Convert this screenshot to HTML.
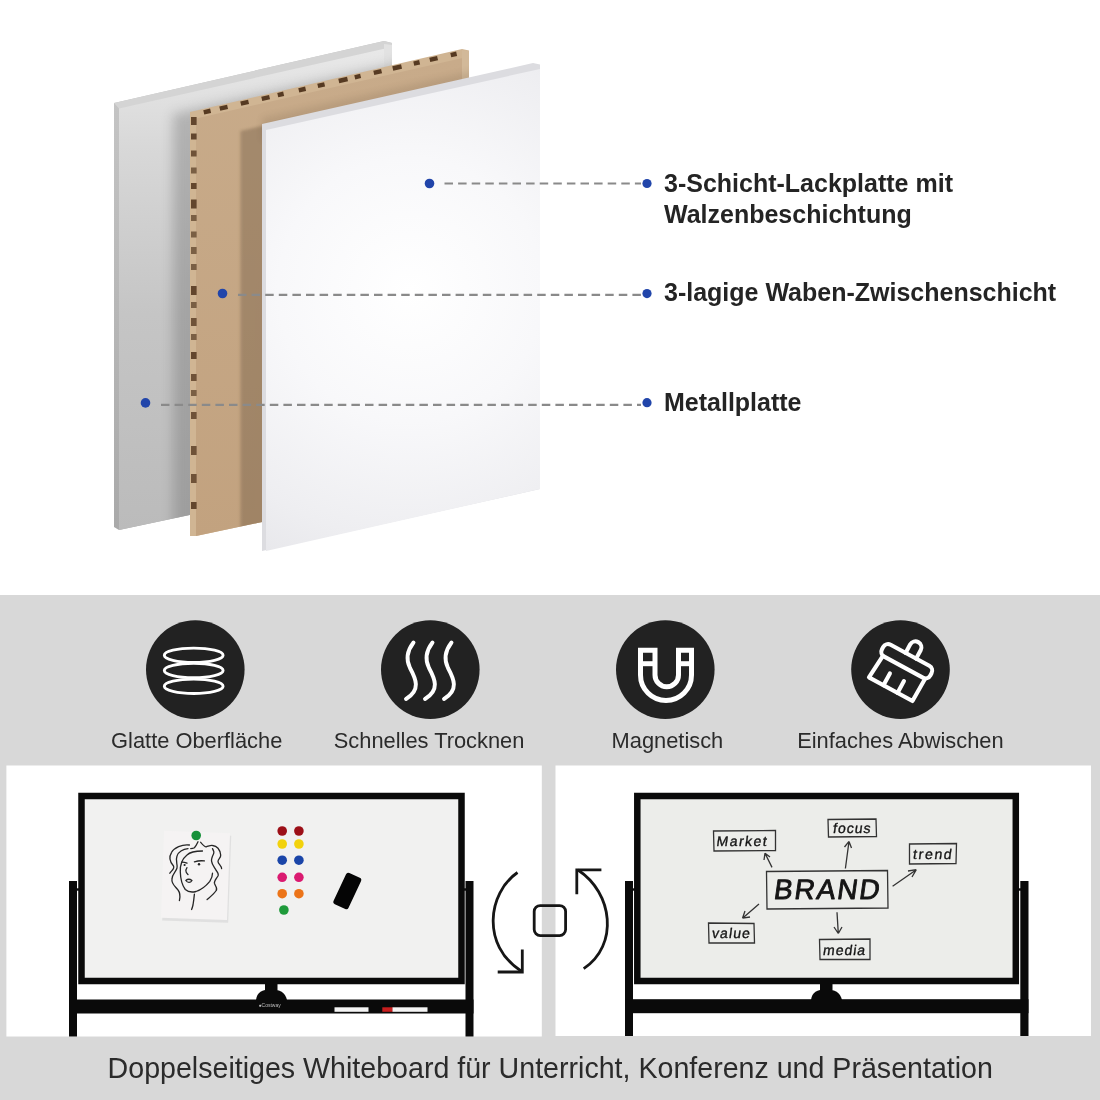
<!DOCTYPE html>
<html><head><meta charset="utf-8"><title>Whiteboard</title>
<style>
html,body{margin:0;padding:0;width:1100px;height:1100px;overflow:hidden;background:#fff;font-family:"Liberation Sans",sans-serif;}
svg{position:absolute;left:0;top:0;display:block;will-change:transform;}
</style></head>
<body>
<svg width="1100" height="1100" viewBox="0 0 1100 1100">
<defs>
  <linearGradient id="metalFace" gradientUnits="userSpaceOnUse" x1="0" y1="50" x2="0" y2="530">
    <stop offset="0" stop-color="#e8e8e8"/>
    <stop offset="0.2" stop-color="#d8d8d8"/>
    <stop offset="0.55" stop-color="#c5c5c5"/>
    <stop offset="1" stop-color="#bbbbbb"/>
  </linearGradient>
  <linearGradient id="metalEdge" gradientUnits="userSpaceOnUse" x1="0" y1="100" x2="0" y2="530">
    <stop offset="0" stop-color="#c4c4c4"/>
    <stop offset="1" stop-color="#a9a9a9"/>
  </linearGradient>
  <linearGradient id="kraft" gradientUnits="userSpaceOnUse" x1="0" y1="60" x2="0" y2="540">
    <stop offset="0" stop-color="#c8ab8a"/>
    <stop offset="1" stop-color="#c2a27f"/>
  </linearGradient>
  <radialGradient id="whiteFace" gradientUnits="userSpaceOnUse" cx="410" cy="290" r="330">
    <stop offset="0" stop-color="#ffffff"/>
    <stop offset="0.4" stop-color="#f8f8fa"/>
    <stop offset="0.75" stop-color="#eeeef1"/>
    <stop offset="1" stop-color="#e4e4e8"/>
  </radialGradient>
  <filter id="blur6" x="-50%" y="-50%" width="200%" height="200%"><feGaussianBlur stdDeviation="6"/></filter>
  <filter id="blur2" x="-50%" y="-50%" width="200%" height="200%"><feGaussianBlur stdDeviation="1.8"/></filter>
  <filter id="blur3" x="-50%" y="-50%" width="200%" height="200%"><feGaussianBlur stdDeviation="3.5"/></filter>
  <clipPath id="metalClip"><polygon points="119,107 392,45 392,472 119,530"/></clipPath>
  <clipPath id="kraftClip"><polygon points="196,118 469,56 469,478 196,536"/></clipPath>
</defs>
<!-- metal panel -->
<polygon points="114,103 384,41 392,43 392,472 119,530 114,527" fill="url(#metalEdge)"/>
<polygon points="119,107 388,45 392,46 392,472 119,530" fill="url(#metalFace)"/>
<polygon points="114,103 384,41 392,43 392,47 119,108.5" fill="#d4d4d4"/>
<polygon points="384,44 392,45 392,70 384,72" fill="#e2e2e2"/>
<g clip-path="url(#metalClip)">
  <polygon points="173,114 462,49 462,540 173,540" fill="#707070" opacity="0.38" filter="url(#blur6)"/>
</g>
<!-- honeycomb panel -->
<polygon points="190,112 462,49 469,50.5 469,478 196,536 190,536" fill="#d0b593"/>
<polygon points="196,118.5 469,56.5 469,478 196,536" fill="url(#kraft)"/>
<polygon points="462,50 469,51 469,120 462,120" fill="#d2b999"/>
<g clip-path="url(#kraftClip)">
  <polygon points="240.5,131 300,117 300,560 240.5,560" fill="#4a3826" opacity="0.28" filter="url(#blur2)"/>
  <polygon points="262,118 540,56 540,120 262,140" fill="#4a3826" opacity="0.12" filter="url(#blur3)"/>
</g>
<g fill="#563a22">
<rect x="191" y="117.0" width="5.6" height="8" opacity="0.9"/>
<rect x="191" y="133.5" width="5.6" height="6" opacity="0.9"/>
<rect x="191" y="150.5" width="5.6" height="6" opacity="0.8"/>
<rect x="191" y="167.5" width="5.6" height="6" opacity="0.7"/>
<rect x="191" y="183.0" width="5.6" height="6" opacity="0.9"/>
<rect x="191" y="199.5" width="5.6" height="9" opacity="0.9"/>
<rect x="191" y="215.0" width="5.6" height="6" opacity="0.7"/>
<rect x="191" y="231.5" width="5.6" height="6" opacity="0.7"/>
<rect x="191" y="247.0" width="5.6" height="7" opacity="0.7"/>
<rect x="191" y="264.0" width="5.6" height="6" opacity="0.7"/>
<rect x="191" y="286.0" width="5.6" height="9" opacity="0.9"/>
<rect x="191" y="302.0" width="5.6" height="6" opacity="0.7"/>
<rect x="191" y="318.0" width="5.6" height="8" opacity="0.8"/>
<rect x="191" y="334.0" width="5.6" height="6" opacity="0.7"/>
<rect x="191" y="352.0" width="5.6" height="7" opacity="0.9"/>
<rect x="191" y="374.0" width="5.6" height="7" opacity="0.8"/>
<rect x="191" y="390.0" width="5.6" height="6" opacity="0.7"/>
<rect x="191" y="412.0" width="5.6" height="7" opacity="0.8"/>
<rect x="191" y="446.0" width="5.6" height="9" opacity="0.8"/>
<rect x="191" y="474.0" width="5.6" height="9" opacity="0.8"/>
<rect x="191" y="502.0" width="5.6" height="7" opacity="0.9"/>
<rect x="203.0" y="110.2" width="7" height="4.4" transform="rotate(-13 203.0 109.0)"/>
<rect x="219.0" y="106.5" width="8" height="4.4" transform="rotate(-13 219.0 105.3)"/>
<rect x="240.0" y="101.6" width="8" height="4.4" transform="rotate(-13 240.0 100.4)"/>
<rect x="261.0" y="96.8" width="8" height="4.4" transform="rotate(-13 261.0 95.6)"/>
<rect x="277.0" y="93.0" width="6" height="4.4" transform="rotate(-13 277.0 91.8)"/>
<rect x="298.0" y="88.2" width="7" height="4.4" transform="rotate(-13 298.0 87.0)"/>
<rect x="317.0" y="83.8" width="7" height="4.4" transform="rotate(-13 317.0 82.6)"/>
<rect x="338.0" y="78.9" width="9" height="4.4" transform="rotate(-13 338.0 77.7)"/>
<rect x="354.0" y="75.2" width="6" height="4.4" transform="rotate(-13 354.0 74.0)"/>
<rect x="373.0" y="70.8" width="8" height="4.4" transform="rotate(-13 373.0 69.6)"/>
<rect x="392.0" y="66.4" width="9" height="4.4" transform="rotate(-13 392.0 65.2)"/>
<rect x="413.0" y="61.5" width="6" height="4.4" transform="rotate(-13 413.0 60.3)"/>
<rect x="429.0" y="57.8" width="8" height="4.4" transform="rotate(-13 429.0 56.6)"/>
<rect x="450.0" y="53.0" width="6" height="4.4" transform="rotate(-13 450.0 51.8)"/>
</g>
<!-- white panel -->
<polygon points="262,124 533,63 540,64.5 540,489 262,551" fill="#dcdce0"/>
<polygon points="266,130 540,69 540,489 266,551" fill="url(#whiteFace)"/>
<!-- dashed leader lines -->
<g stroke="#8a8a8a" stroke-width="2.2" stroke-dasharray="8.5 5.1">
  <line x1="444.5" y1="183.5" x2="641" y2="183.5"/>
  <line x1="238" y1="294.8" x2="641" y2="294.8"/>
  <line x1="161" y1="404.8" x2="641" y2="404.8"/>
</g>
<g fill="#2145aa">
  <circle cx="429.5" cy="183.5" r="4.8"/>
  <circle cx="222.5" cy="293.5" r="4.8"/>
  <circle cx="145.5" cy="402.9" r="4.8"/>
  <circle cx="647" cy="183.5" r="4.6"/>
  <circle cx="647" cy="293.6" r="4.6"/>
  <circle cx="647" cy="402.7" r="4.6"/>
</g>
<g font-family="Liberation Sans, sans-serif" font-weight="bold" font-size="25" fill="#242424">
  <text x="664" y="192">3-Schicht-Lackplatte mit</text>
  <text x="664" y="222.5">Walzenbeschichtung</text>
  <text x="664" y="300.5">3-lagige Waben-Zwischenschicht</text>
  <text x="664" y="410.6">Metallplatte</text>
</g>

<rect x="0" y="595" width="1100" height="505" fill="#d8d8d8"/>
<!-- icons -->
<g fill="#222222">
  <circle cx="195.3" cy="669.6" r="49.3"/>
  <circle cx="430.3" cy="669.6" r="49.3"/>
  <circle cx="665.3" cy="669.6" r="49.3"/>
  <circle cx="900.5" cy="669.6" r="49.3"/>
</g>
<g fill="none" stroke="#fff" stroke-width="2.9">
  <ellipse cx="193.7" cy="655.3" rx="29.4" ry="7.2"/>
  <ellipse cx="193.7" cy="670.5" rx="29.4" ry="7.2"/>
  <ellipse cx="193.7" cy="686.3" rx="29.4" ry="7.2"/>
</g>
<g fill="none" stroke="#fff" stroke-width="3.9" stroke-linecap="round">
  <path d="M413.5,642.5 C407,651 406,660 410,668 C416,679 421,690 406,699"/>
  <path d="M432.5,642.5 C426,651 425,660 429,668 C435,679 440,690 425,699"/>
  <path d="M451.5,642.5 C445,651 444,660 448,668 C454,679 459,690 444,699"/>
</g>
<g fill="none" stroke="#fff" stroke-width="5" stroke-linejoin="miter">
  <path d="M640.5,650.3 L640.5,675 A25.5,25.5 0 0 0 691.5,675 L691.5,650.3 L678.5,650.3 L678.5,675 A11.75,11.75 0 0 1 655,675 L655,650.3 Z"/>
  <line x1="640" y1="663.7" x2="655.5" y2="663.7"/>
  <line x1="678" y1="663.7" x2="692" y2="663.7"/>
</g>
<g transform="rotate(28.5 900.5 669.6)" fill="none" stroke="#fff" stroke-width="4.1" stroke-linejoin="round" stroke-linecap="round">
  <path d="M897,652.5 L897,643 A6,6 0 0 1 909,643 L909,652.5"/>
  <rect x="874.5" y="652.5" width="55" height="13.5" rx="5.5"/>
  <path d="M878.5,666 L876.5,691.5 L926,691.5 L926.5,666"/>
  <line x1="893" y1="691.5" x2="893" y2="678"/>
  <line x1="909" y1="691.5" x2="909" y2="678"/>
</g>
<g font-family="Liberation Sans, sans-serif" font-size="21.85" fill="#2b2b2b" text-anchor="middle">
  <text x="196.7" y="747.8">Glatte Oberfläche</text>
  <text x="429.1" y="747.8">Schnelles Trocknen</text>
  <text x="667.4" y="747.8">Magnetisch</text>
  <text x="900.4" y="747.8">Einfaches Abwischen</text>
</g>
<!-- white panels -->
<rect x="6.4" y="765.5" width="535.4" height="271" fill="#ffffff"/>
<rect x="555.5" y="765.5" width="535.5" height="270.5" fill="#ffffff"/>
<!-- left whiteboard -->
<g>
  <rect x="69" y="881" width="8" height="155.5" fill="#0a0a0a"/>
  <rect x="465.5" y="881" width="8" height="155.5" fill="#0a0a0a"/>
  <rect x="69" y="999.5" width="404.5" height="14" fill="#0a0a0a"/>
  <rect x="81.5" y="796" width="380" height="185" fill="#f1f1f0" stroke="#0a0a0a" stroke-width="6.5"/>
  <rect x="265" y="983" width="12.5" height="7" fill="#0a0a0a"/>
  <path d="M256,1000 C257,992 262,989.5 271,989.5 C280,989.5 285,992 287,1000 Z" fill="#0a0a0a"/>
  <text x="258.5" y="1006.8" font-family="Liberation Sans, sans-serif" font-size="5" fill="#bdbdbd">&#9679;Costway</text>
  <rect x="334.5" y="1007.3" width="34" height="4.5" fill="#f4f4f4"/>
  <rect x="382.3" y="1007.3" width="10.5" height="4.5" fill="#c81e1e"/>
  <rect x="392.5" y="1007.3" width="35" height="4.5" fill="#f4f4f4"/>
  <!-- paper -->
  <g transform="rotate(2 196 876)">
    <rect x="163" y="833" width="66" height="87" fill="#cfcfcf" opacity="0.5" transform="translate(0.8,1.6)"/>
    <rect x="162.5" y="832" width="66" height="87" fill="#f5f3f3"/>
  </g>
  <g fill="none" stroke="#262626" stroke-width="1.3" stroke-linecap="round" stroke-linejoin="round">
    <path d="M189.4,845 C182,844 174,848 171.6,852.3 C168,858 170,862 173.5,866 C175,869 171,871 169.8,873.2"/>
    <path d="M188,848.6 C183,849 178,852 177,856 C175,861 178,865 177,868 C176,872 172,874 172,879 C171,884 176,887 178,890 C181,894 180,897 179.4,900.5"/>
    <path d="M202.5,851 C196,851 190,852 187,855 C182,859 180,866 180.3,872 C180.5,879 182,885 185.3,889.5 C188,892 192,892.5 196,891.5 C201,890 206,886 209.8,881.4 C212,878 212.5,876 212.5,873.2"/>
    <path d="M200.7,842.3 C203,845 205,847 206.2,846.8 C209,846 211,845 212.5,845.5 C217,846 220,850 220.7,855 C221,858 218,859 218,861.4 C218,864 222,866 221.6,868.6"/>
    <path d="M212.5,848.6 C214,851 214,853 213.5,854 C212,857 211,859 211.6,861.4 C212,865 215,868 216.2,870.5 C218,873 219,874 218,876 C216,879 214,881 214.4,883.2 C215,886 218,888 216.2,890.5 C214,894 210,897 207.1,899.5"/>
    <path d="M198,841.8 C197,844 196,846 194.4,847.7 C193,848.5 192,848.6 190.7,848.6"/>
    <path d="M181.6,862.3 C183,862 185,862.5 187,863.2 M194.4,861.8 C197,861 201,860.5 204.4,860.9"/>
    <path d="M187,867.7 C186,869 185.5,871 186.2,872.3 C186.8,873.5 187.5,874 188,874.5"/>
    <path d="M185.8,880.5 C187.5,879 190,879 192,880.5 C190.5,883 187.5,883 185.8,880.5 Z"/>
    <path d="M194.4,894.1 C194,898 193.5,902 193,905 C192.5,907 192,908.5 191.6,909.5"/>
  </g>
  <circle cx="184.6" cy="865" r="1.1" fill="#222"/>
  <circle cx="199" cy="864.2" r="1.2" fill="#222"/>
  <circle cx="196.2" cy="835.5" r="4.8" fill="#17913a"/>
  <g>
    <circle cx="282.2" cy="831" r="4.8" fill="#9c0f17"/>
    <circle cx="298.9" cy="831" r="4.8" fill="#9c0f17"/>
    <circle cx="282.2" cy="844" r="4.8" fill="#f2d20c"/>
    <circle cx="298.9" cy="844" r="4.8" fill="#f2d20c"/>
    <circle cx="282.2" cy="860.2" r="4.8" fill="#1a45a8"/>
    <circle cx="298.9" cy="860.2" r="4.8" fill="#1a45a8"/>
    <circle cx="282.2" cy="877.3" r="4.8" fill="#da1a70"/>
    <circle cx="298.9" cy="877.3" r="4.8" fill="#da1a70"/>
    <circle cx="282.2" cy="893.7" r="4.8" fill="#ec7418"/>
    <circle cx="298.9" cy="893.7" r="4.8" fill="#ec7418"/>
    <circle cx="283.9" cy="910" r="4.8" fill="#1e9a3a"/>
  </g>
  <rect x="339.05" y="873.8" width="16.5" height="34.4" rx="2.5" fill="#050505" transform="rotate(25 347.3 891)"/>
</g>
<!-- right whiteboard -->
<g>
  <rect x="625" y="881" width="8" height="155" fill="#0a0a0a"/>
  <rect x="1020.3" y="881" width="8.2" height="155" fill="#0a0a0a"/>
  <rect x="625" y="999.2" width="403.5" height="14" fill="#0a0a0a"/>
  <rect x="637.3" y="796" width="378.5" height="185" fill="#ecedea" stroke="#0a0a0a" stroke-width="6.5"/>
  <rect x="820" y="983" width="12.5" height="7" fill="#0a0a0a"/>
  <path d="M811,1000 C812,992 817,989.5 826,989.5 C835,989.5 840,992 842,1000 Z" fill="#0a0a0a"/>
  <g fill="none" stroke="#333" stroke-width="1.3">
    <path d="M766.5,871.5 L887.5,870.5 L888,908 L767,909 Z"/>
    <path d="M713.5,831 L775.5,830.5 L775.5,850.5 L714,851 Z"/>
    <path d="M828,819.5 L876,819 L876.5,836.5 L828.5,837 Z"/>
    <path d="M909.5,844 L956.5,843.5 L956,863.5 L909.5,864 Z"/>
    <path d="M708.5,923 L754,923.5 L754.5,943 L709,943 Z"/>
    <path d="M819.5,939.5 L870,939 L870,959.5 L820,959.5 Z"/>
    <path d="M772,867.4 L765,853.2 M765,853.2 L764,860 M765,853.2 L770,857"/>
    <path d="M845.4,868.5 L849,841.4 M849,841.4 L844.5,847 M849,841.4 L851.5,848"/>
    <path d="M892.6,886.3 L916.3,869.7 M916.3,869.7 L908,871 M916.3,869.7 L912,877"/>
    <path d="M759,904 L742.5,918.2 M742.5,918.2 L750,917 M742.5,918.2 L745,911"/>
    <path d="M837,912.3 L838.3,933.5 M838.3,933.5 L834,927 M838.3,933.5 L842,927"/>
  </g>
  <g font-family="Liberation Sans, sans-serif" fill="#151515" stroke="#151515" stroke-linejoin="round">
    <text x="773" y="899.5" font-size="28" letter-spacing="1.9" stroke-width="0.9" transform="translate(126.42,0) skewX(-8)">BRAND</text>
    <text x="716" y="846" font-size="14" letter-spacing="1.5" stroke-width="0.35" transform="translate(118.90,0) skewX(-8)">Market</text>
    <text x="832.5" y="833" font-size="14" letter-spacing="1.0" stroke-width="0.35" transform="translate(117.07,0) skewX(-8)">focus</text>
    <text x="912.5" y="859.5" font-size="14" letter-spacing="1.7" stroke-width="0.35" transform="translate(120.79,0) skewX(-8)">trend</text>
    <text x="711.5" y="938.5" font-size="14" letter-spacing="1.1" stroke-width="0.35" transform="translate(131.90,0) skewX(-8)">value</text>
    <text x="822.5" y="955" font-size="14" letter-spacing="1.0" stroke-width="0.35" transform="translate(134.22,0) skewX(-8)">media</text>
  </g>
</g>
<!-- connectors -->
<g fill="#0a0a0a">
  <rect x="76" y="888.3" width="3.5" height="2.4"/>
  <rect x="463.5" y="888.3" width="3.5" height="2.4"/>
  <rect x="632" y="888.3" width="3.5" height="2.4"/>
  <rect x="1018.5" y="888.3" width="3" height="2.4"/>
</g>
<!-- rotation icon -->
<g fill="none" stroke="#161616" stroke-width="2.8">
  <path d="M517.5,872.5 C488,893 481,945 521,971"/>
  <path d="M522.3,949.6 L522.3,972 L497.7,972"/>
  <path d="M578,870 C613,893 619,945 583.7,968.7"/>
  <path d="M601.4,869.8 L576.8,869.8 L576.8,894.3"/>
  <rect x="534.2" y="905.6" width="31.4" height="30" rx="6"/>
</g>
<text x="107.6" y="1077.5" font-family="Liberation Sans, sans-serif" font-size="28.6" fill="#2b2b2b">Doppelseitiges Whiteboard für Unterricht, Konferenz und Präsentation</text>

</svg>
</body></html>
